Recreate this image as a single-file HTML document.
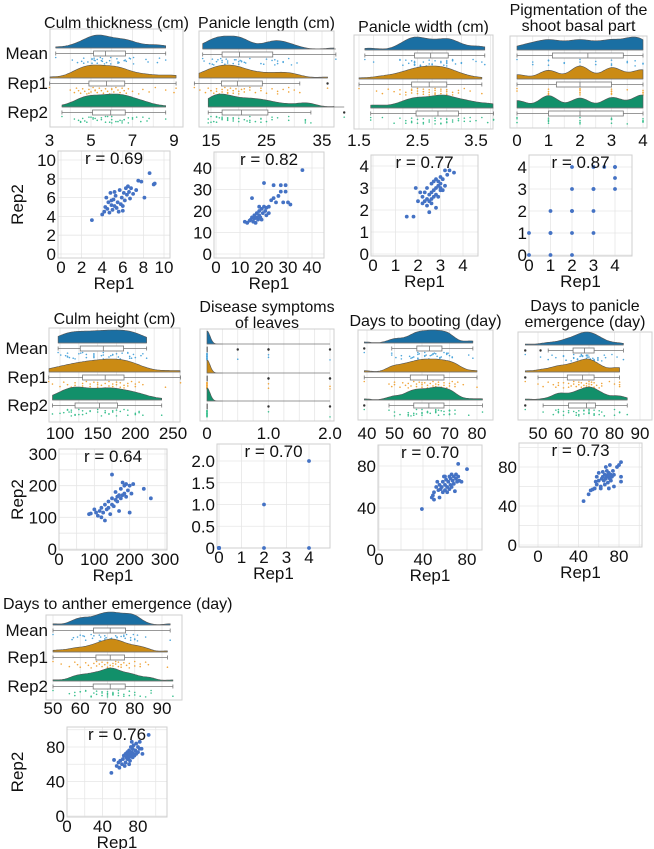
<!DOCTYPE html>
<html><head><meta charset="utf-8">
<style>
html,body{margin:0;padding:0;background:#fff;}
svg{display:block;font-family:"Liberation Sans",Arial,sans-serif;}
</style></head>
<body>
<svg id="fig" width="654" height="849" viewBox="0 0 654 849" xmlns="http://www.w3.org/2000/svg"></svg>
<script>
// ---- data (Rep1, Rep2 pairs per trait) ----
const titles = [["Culm thickness (cm)"],["Panicle length (cm)"],["Panicle width (cm)"],["Pigmentation of the","shoot basal part"],["Culm height (cm)"],["Disease symptoms","of leaves"],["Days to booting (day)"],["Days to panicle","emergence (day)"],["Days to anther emergence (day)"]];
const rValues = ["0.69","0.82","0.77","0.87","0.64","0.70","0.70","0.73","0.76"];
const p1 = [[3,3.6],[4,4.2],[4.2,4.5],[4.3,5],[4.4,6],[4.5,4.8],[4.6,5.5],[4.7,4.4],[4.8,6.5],[4.9,5.2],[5,4.7],[5.1,5.8],[5.2,5.1],[5.3,6.2],[5.4,4.9],[5.5,5.5],[5.6,4.5],[5.7,6.8],[5.8,5.3],[5.9,6],[6,4.6],[6.1,6.5],[6.2,5.7],[6.3,7],[6.4,6.3],[6.5,7.2],[6.6,6.6],[6.7,5.9],[6.8,7],[7,6.4],[7.3,6.8],[7.5,7.8],[7.8,7.7],[8.1,6],[8.6,8.6],[9,7.4],[9.1,7.5],[5.2,6.6],[4.9,5.7],[6,5.1]];
const p2 = [[12,15],[13,14.5],[14,15.5],[14.5,16],[15,17],[15.5,15],[16,16.5],[16,18],[16.5,14.5],[17,17],[17,19],[17.5,16],[18,18],[18,20],[18.5,17],[19,21],[19,16],[19.5,19],[20,22],[20,33],[20.5,20],[21,21.5],[22,22],[22,19],[23,25],[24,26],[24,32],[25,24],[26,27],[27,29],[27,32],[28,24],[29,32],[29,29],[30,24],[31,23],[36,39],[15,26],[18,22],[21,18]];
const p3 = [[1.5,1.7],[1.8,1.7],[1.9,3],[2,2.4],[2.1,2.8],[2.2,2.3],[2.2,2.6],[2.3,2.4],[2.3,2.8],[2.4,2.5],[2.4,3],[2.5,1.9],[2.5,2.7],[2.5,2.4],[2.6,2.8],[2.6,3.2],[2.6,2.5],[2.7,2.9],[2.7,3.3],[2.7,2.6],[2.8,3],[2.8,2.7],[2.8,3.4],[2.9,3.1],[2.9,2.6],[2.9,3.3],[3,3.5],[3,2.9],[3,3.2],[3.1,3.4],[3.1,2.9],[3.2,3.8],[3.2,3.1],[3.3,3.6],[3.4,3.8],[3.6,3.7],[2.4,2.2],[2.6,2.3],[2.8,2.1],[3,3]];
const p4 = [[0,0],[0,1],[1,0],[1,1],[1,2],[1,1],[2,0],[2,1],[2,2],[2,3],[2,4],[2,2],[3,1],[3,2],[3,3],[3,4],[3,3],[3.5,4],[4,4],[4,3.5],[4,3],[4,4]];
const p5 = [[85,110],[90,112],[100,125],[105,115],[110,105],[115,120],[120,130],[120,100],[125,115],[130,140],[130,90],[135,125],[140,150],[140,130],[145,110],[150,160],[150,235],[150,140],[155,135],[160,155],[160,180],[165,165],[165,150],[170,170],[170,120],[175,190],[175,160],[180,210],[180,170],[185,200],[185,175],[190,205],[190,165],[195,185],[200,115],[200,200],[205,175],[210,205],[240,190],[260,160]];
const p6 = [[0,0],[0,0],[0,0],[0,0],[0,0],[0,0],[0,0],[0,0],[0,0],[0,0],[0,0],[0,0],[0,0],[0,0],[0,0],[0,0],[2,0],[2,1],[4,0],[4,2]];
const p7 = [[39,39],[48,50],[49,52],[50,48],[50,55],[52,60],[53,65],[54,57],[55,50],[55,62],[56,58],[57,60],[58,65],[58,55],[59,70],[60,62],[60,57],[61,67],[62,60],[62,55],[63,65],[64,70],[64,58],[65,62],[65,68],[66,72],[66,60],[67,66],[68,70],[68,63],[69,56],[70,68],[70,72],[71,65],[72,82],[72,70],[73,66],[75,65],[80,77],[60,70]];
const p8 = [[45,45],[50,52],[52,56],[54,57],[56,58],[57,65],[58,62],[58,70],[60,66],[62,58],[63,68],[64,70],[64,75],[65,66],[66,72],[66,62],[67,80],[67,68],[68,70],[68,76],[69,64],[69,72],[70,58],[70,70],[70,74],[71,68],[71,82],[72,72],[72,66],[73,70],[74,76],[75,60],[75,72],[78,80],[80,82],[82,85],[82,70],[82,65],[62,60],[60,74]];
const p9 = [[50,50],[53,65],[56,58],[58,62],[59,56],[60,64],[62,60],[63,66],[64,70],[65,58],[66,72],[66,62],[67,68],[68,74],[68,66],[69,70],[70,76],[70,68],[71,72],[71,64],[72,80],[72,70],[73,86],[73,74],[74,68],[74,78],[75,72],[75,82],[76,70],[77,76],[78,84],[78,72],[80,80],[80,74],[82,86],[82,78],[84,78],[85,72],[92,94],[70,60]];
const traitData = [p1,p2,p3,p4,p5,p6,p7,p8,p9];
const rcTicks = [[3,5,7,9],[15,25,35],[1.5,2.5,3.5],[0,1,2,3,4],[100,150,200,250],[0,1.0,2.0],[40,50,60,70,80],[50,60,70,80,90],[50,60,70,80,90]];
const rcTickLabels = [["3","5","7","9"],["15","25","35"],["1.5","2.5","3.5"],["0","1","2","3","4"],["100","150","200","250"],["0","1.0","2.0"],["40","50","60","70","80"],["50","60","70","80","90"],["50","60","70","80","90"]];
const scXTicks = [[0,2,4,6,8,10],[0,10,20,30,40],[0,1,2,3,4],[0,1,2,3,4],[0,100,200,300],[0,1,2,3,4],[0,40,80],[0,40,80],[0,40,80]];
const scYTicks = [[0,2,4,6,8,10],[0,10,20,30,40],[0,1,2,3,4],[0,1,2,3,4],[0,100,200,300],[0,0.5,1.0,1.5,2.0],[0,40,80],[0,40,80],[0,40,80]];
const scYLabels = [["0","2","4","6","8","10"],["0","10","20","30","40"],["0","1","2","3","4"],["0","1","2","3","4"],["0","100","200","300"],["0","0.5","1.0","1.5","2.0"],["0","40","80"],["0","40","80"],["0","40","80"]];

// ---- geometry (pixels) ----
const geo = [
 {rc:{x0:50,x1:183,y0:29,y1:127,ta:49.5,tb:174,rows:[48,78,107],tickY:146,step:1,bw:0.45},
  sc:{x0:58,x1:170,y0:151,y1:258,xta:61,xtb:164,yta:254,ytb:160,grid:2}, titleY:[22], labels:true},
 {rc:{x0:199,x1:334,y0:31,y1:127,ta:211,tb:322,rows:[49,78,107],tickY:146,step:5,bw:1.6},
  sc:{x0:214,x1:324,y0:152,y1:258,xta:216,xtb:312,yta:254,ytb:168,grid:10}, titleY:[22]},
 {rc:{x0:354,x1:493,y0:35,y1:129,ta:359,tb:476,rows:[50,79,108],tickY:146,step:0.25,bw:0.15},
  sc:{x0:371,x1:478,y0:155,y1:256,xta:373,xtb:463,yta:254,ytb:166,grid:1}, titleY:[26]},
 {rc:{x0:510,x1:647,y0:36,y1:128,ta:517,tb:643,rows:[50,79,108],tickY:146,step:0.5,bw:0.3},
  sc:{x0:529,x1:632,y0:155,y1:256,xta:529,xtb:615,yta:255,ytb:167,grid:1}, titleY:[9,25]},
 {rc:{x0:49,x1:180,y0:328,y1:422,ta:60,tb:173,rows:[343,372,400],tickY:439,step:25,bw:16},
  sc:{x0:59,x1:167,y0:449,y1:550,xta:59,xtb:165,yta:549,ytb:454,grid:50}, titleY:[318], labels:true},
 {rc:{x0:200,x1:334,y0:329,y1:421,ta:207,tb:330,rows:[344,373,401],tickY:439,step:0.25,bw:0.05},
  sc:{x0:217,x1:330,y0:444,y1:548,xta:219,xtb:309,yta:548,ytb:461,grid:1}, titleY:[306,322]},
 {rc:{x0:358,x1:493,y0:330,y1:420,ta:367,tb:477,rows:[343,372,400],tickY:439,step:10,bw:2.4},
  sc:{x0:378,x1:482,y0:445,y1:550,xta:379,xtb:467,yta:550,ytb:466,grid:20}, titleY:[320]},
 {rc:{x0:518,x1:652,y0:332,y1:420,ta:538,tb:640,rows:[345,372,400],tickY:439,step:10,bw:2.4},
  sc:{x0:519,x1:642,y0:443,y1:547,xta:538,xtb:619,yta:545,ytb:467,grid:20}, titleY:[305,321]},
 {rc:{x0:46,x1:182,y0:615,y1:700,ta:53,tb:162,rows:[625,652,681],tickY:714,step:10,bw:2.4},
  sc:{x0:67,x1:167,y0:727,y1:817,xta:67,xtb:138,yta:816,ytb:747,grid:20}, titleY:[603], labels:true, titleLeft:3}
];
const fillCols = ["#1a6fa3","#cb8b14","#12906a"];
const dotCols = ["#4ea6dc","#f0a53a","#3cc08f"];
const rowNames = ["Mean","Rep1","Rep2"];

const svg = document.getElementById('fig');
const NS = "http://www.w3.org/2000/svg";
function mk(tag, attrs, parent){const e=document.createElementNS(NS,tag);for(const k in attrs)e.setAttribute(k,attrs[k]);(parent||svg).appendChild(e);return e;}
function txt(s, x, y, size, anchor, parent){const t=mk('text',{x:x,y:y,'font-size':size,'text-anchor':anchor||'middle',fill:'#111'},parent);t.textContent=s;return t;}
function quant(a,q){const s=[...a].sort((u,v)=>u-v);const p=(s.length-1)*q;const i=Math.floor(p);return s[i]+(s[Math.min(i+1,s.length-1)]-s[i])*(p-i);}

traitData.forEach((data, k) => {
  const g = geo[k]; const rc = g.rc; const sc = g.sc;
  const grp = mk('g', {});  
  const ticks = rcTicks[k];
  const a = ticks[0], b = ticks[ticks.length-1];
  const xs = v => rc.ta + (v - a) * (rc.tb - rc.ta) / (b - a);
  const d0 = a + (rc.x0 - rc.ta) * (b - a) / (rc.tb - rc.ta), d1 = a + (rc.x1 - rc.ta) * (b - a) / (rc.tb - rc.ta);
  const cx = (rc.x0 + rc.x1) / 2;
  titles[k].forEach((line, li) => {
    const t = g.titleLeft !== undefined ? txt(line, g.titleLeft, g.titleY[li] + 6, 16, 'start', grp) : txt(line, cx, g.titleY[li] + 6, 16, 'middle', grp);
     
  });
  const rcg = mk('g', {}, grp);  
  for (let v = Math.ceil(d0 / rc.step) * rc.step; v <= d1 + 1e-9; v += rc.step) {
    mk('line', {x1:xs(v), x2:xs(v), y1:rc.y0, y2:rc.y1, stroke:'#e6e6e6', 'stroke-width':0.8}, rcg);
  }
  mk('rect', {x:rc.x0, y:rc.y0, width:rc.x1-rc.x0, height:rc.y1-rc.y0, fill:'none', stroke:'#cfcfcf', 'stroke-width':1}, rcg);
  ticks.forEach((v, i) => { const t = txt(rcTickLabels[k][i], xs(v), rc.tickY, 17, 'middle', grp);   });
  const xScale = k === 5 ? 0.5 : 1;
  const series = [data.map(p => (p[0]*xScale + p[1]) / 2), data.map(p => p[0]*xScale), data.map(p => p[1])];
  series.forEach((vals, r) => {
    const base = rc.rows[r];
    const mn = Math.min(...vals), mx = Math.max(...vals);
    const lo = Math.max(d0, mn), hi = Math.min(d1, k === 5 ? mn + 0.25 : mx);
    const N = 80, dens = [];
    for (let i = 0; i <= N; i++) { const x = lo + (hi - lo) * i / N; let s = 0; vals.forEach(v => { const z = (x - v) / rc.bw; s += Math.exp(-0.5 * z * z); }); dens.push([x, s]); }
    const dmax = Math.max(...dens.map(d => d[1]));
    let path = 'M' + xs(lo) + ',' + base;
    dens.forEach(d => { path += ' L' + xs(d[0]).toFixed(1) + ',' + (base - 13 * d[1] / dmax).toFixed(1); });
    path += ' L' + xs(hi) + ',' + base + ' Z';
    const cl = mk('path', {d:path, fill:fillCols[r], stroke:'#555', 'stroke-width':0.6}, rcg);
     
    mk('line', {x1:xs(lo), x2:xs(Math.max(hi, mx)), y1:base, y2:base, stroke:'#777', 'stroke-width':0.8}, rcg);
    const q1 = quant(vals, .25), q2 = quant(vals, .5), q3 = quant(vals, .75), iqr = q3 - q1;
    const inl = vals.filter(v => v >= q1 - 1.5*iqr && v <= q3 + 1.5*iqr);
    const wl = Math.min(...inl), wh = Math.max(...inl);
    const by = base + 5.5;
    mk('line', {x1:xs(wl), x2:xs(wh), y1:by, y2:by, stroke:'#777', 'stroke-width':0.8}, rcg);
    [wl, wh].forEach(w => mk('line', {x1:xs(w), x2:xs(w), y1:by-2, y2:by+2, stroke:'#777', 'stroke-width':0.8}, rcg));
    const bx = mk('rect', {x:xs(q1), y:by-2.5, width:Math.max(0.5, xs(q3)-xs(q1)), height:5, fill:'#fff', stroke:'#777', 'stroke-width':0.8}, rcg);
     
    mk('line', {x1:xs(q2), x2:xs(q2), y1:by-2.5, y2:by+2.5, stroke:'#777', 'stroke-width':0.8}, rcg);
    vals.filter(v => v < wl || v > wh).forEach(v => mk('circle', {cx:xs(v), cy:by, r:1.2, fill:'#333'}, rcg));
    vals.forEach((v, i) => { mk('circle', {cx:xs(v), cy:by + 4 + ((i * 37) % 11) / 11 * 7, r:0.8, fill:dotCols[r]}, rcg); });
    if (g.labels) { const t = txt(rowNames[r], 48, base + 11, 17, 'end', grp);   }
  });
  const scg = mk('g', {}, grp);  
  const xt = scXTicks[k], yt = scYTicks[k];
  const X = v => sc.xta + (v - xt[0]) * (sc.xtb - sc.xta) / (xt[xt.length-1] - xt[0]);
  const Y = v => sc.yta + (v - yt[0]) * (sc.ytb - sc.yta) / (yt[yt.length-1] - yt[0]);
  const sxd1 = xt[0] + (sc.x1 - sc.xta) * (xt[xt.length-1] - xt[0]) / (sc.xtb - sc.xta);
  const syd1 = yt[0] + (sc.y0 - sc.yta) * (yt[yt.length-1] - yt[0]) / (sc.ytb - sc.yta);
  const gx = k === 5 ? 1 : (k === 4 ? 50 : sc.grid), gy = k === 5 ? 0.5 : sc.grid;
  for (let v = 0; v <= sxd1 + 1e-9; v += gx) mk('line', {x1:X(v), x2:X(v), y1:sc.y0, y2:sc.y1, stroke:'#e6e6e6', 'stroke-width':0.8}, scg);
  for (let v = 0; v <= syd1 + 1e-9; v += gy) mk('line', {x1:sc.x0, x2:sc.x1, y1:Y(v), y2:Y(v), stroke:'#e6e6e6', 'stroke-width':0.8}, scg);
  mk('rect', {x:sc.x0, y:sc.y0, width:sc.x1-sc.x0, height:sc.y1-sc.y0, fill:'none', stroke:'#cfcfcf', 'stroke-width':1}, scg);
  data.forEach(p => { const c = mk('circle', {cx:X(p[0]), cy:Y(p[1]), r:1.9, fill:'#4472c4'}, scg);   });
  xt.forEach(v => { const t = txt(String(v), X(v), sc.y1 + 15, 17, 'middle', grp);   });
  yt.forEach((v, i) => { const t = txt(scYLabels[k][i], sc.x0 - 2, Y(v) + 6, 17, 'end', grp);   });
  const rt = txt('r = ' + rValues[k], (sc.x0 + sc.x1) / 2, sc.y0 + 13, 17, 'middle', grp);  
  const xl = txt('Rep1', (sc.x0 + sc.x1) / 2, sc.y1 + 31, 17, 'middle', grp);  
  if (g.labels) { const yl = txt('Rep2', 0, 0, 17, 'middle', grp); yl.setAttribute('transform', 'translate(23,' + ((sc.y0 + sc.y1) / 2) + ') rotate(-90)');   }
});
</script>
</body></html>
